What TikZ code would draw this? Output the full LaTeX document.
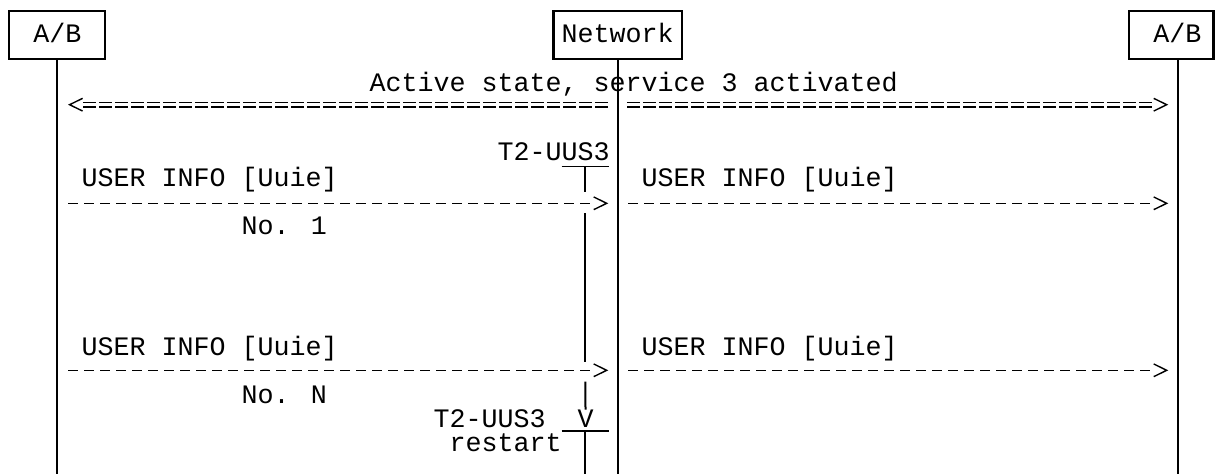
\documentclass[tikz,border=0pt]{standalone}
\usepackage{fontspec}
\newfontfamily\cour{Liberation Mono}
\usetikzlibrary{arrows.meta}
\begin{document}
\begin{tikzpicture}[x=1pt,y=-1pt,
  mono/.style={font=\cour\fontsize{26.67pt}{30pt}\selectfont},
  txt/.style={mono, inner sep=0pt, anchor=base west},
  actor/.style={mono, draw, line width=2.2pt, minimum width=96pt, minimum height=48.3pt,
    inner sep=0pt, text height=14.9pt, text depth=0pt},
  life/.style={line width=2.2pt},
  timer/.style={line width=2pt},
  uline/.style={line width=1.2pt},
  msg/.style={line width=1.5pt, dash pattern=on 10pt off 6pt},
  eqline/.style={double, double distance=2.8pt, line width=1.4pt, dash pattern=on 13pt off 3pt},
  tiponly/.style={line width=1.4pt, dash pattern=on 0pt off 1000pt, dash phase=1pt,
    -{Straight Barb[length=13pt,width=12.7pt,line width=1.4pt]}},
]
\fill[white] (0,0) rectangle (1215,474);
\useasboundingbox (0,0) rectangle (1215,474);

% actors
\node[actor] (A) at (57.3,34.85) {A/B};
\node[actor, minimum width=128.5pt] (N) at (617.7,34.85) {Network};
\node[actor, minimum width=84.2pt] (B) at (1171.4,34.85) {\hspace*{11.8pt}A/B};

% lifelines
\coordinate (Abot) at (57.3,474);
\coordinate (Nbot) at (617.7,474);
\coordinate (Bbot) at (1178,474);
\draw[life] (A.south) -- (Abot);
\draw[life] (N.south) -- (Nbot);
\draw[life] (B.south -| Bbot) -- (Bbot);

% state
\node[txt] (st) at (369.3,91) {Active state, service 3 activated};
\coordinate (sLa) at (607.8,104.7);
\coordinate (sLb) at (82.8,104.7);
\coordinate (sLt) at (68,104.7);
\coordinate (sRa) at (626.8,104.7);
\coordinate (sRb) at (1151.8,104.7);
\coordinate (sRt) at (1168.3,104.7);
\draw[eqline] (sLb) -- (sLa);
\draw[eqline] (sRa) -- (sRb);
\draw[tiponly] (sLb) -- (sLt);
\draw[tiponly] (sRb) -- (sRt);

% timer start
\node[txt] (t1) at (497.3,160.7) {T2-UUS3};
\coordinate (u1a) at (561.5,166.7);
\coordinate (u1b) at (608.5,166.7);
\draw[uline] (u1a) -- (u1b);

% message 1
\node[txt] (l1) at (81.3,186.7) {USER INFO [Uuie]};
\node[txt] (r1) at (641.3,186.7) {USER INFO [Uuie]};
\coordinate (m1s) at (68,203.3);
\coordinate (m1e) at (590.3,203.3);
\coordinate (m1t) at (608.3,203.3);
\coordinate (m2s) at (628,203.3);
\coordinate (m2e) at (1150.3,203.3);
\coordinate (m2t) at (1168.3,203.3);
\draw[msg] (m1s) -- (m1e);
\draw[tiponly] (m1e) -- (m1t);
\draw[msg] (m2s) -- (m2e);
\draw[tiponly] (m2e) -- (m2t);
\node[txt] (n1) at (241.3,234) {No. 1};

% message N
\node[txt] (l2) at (81.3,355) {USER INFO [Uuie]};
\node[txt] (r2) at (641.3,355) {USER INFO [Uuie]};
\coordinate (m3s) at (68,370.3);
\coordinate (m3e) at (590.3,370.3);
\coordinate (m3t) at (608.3,370.3);
\coordinate (m4s) at (628,370.3);
\coordinate (m4e) at (1150.3,370.3);
\coordinate (m4t) at (1168.3,370.3);
\draw[msg] (m3s) -- (m3e);
\draw[tiponly] (m3e) -- (m3t);
\draw[msg] (m4s) -- (m4e);
\draw[tiponly] (m4e) -- (m4t);
\node[txt] (n2) at (241.3,403.3) {No. N};

% timer expiry
\node[txt] (t2) at (433.3,427.3) {T2-UUS3};
\node[txt] (V) at (577.3,427.3) {V};
\node[txt] (rs) at (449.3,451) {restart};
\coordinate (u2a) at (561.5,431);
\coordinate (u2b) at (608.5,431);
\draw[uline] (u2a) -- (u2b);

% timer line
\coordinate (tA) at (585.4,166.7);
\coordinate (tB) at (585.4,191.7);
\coordinate (tC) at (585.4,213.3);
\coordinate (tD) at (585.4,361.7);
\coordinate (tE) at (585.4,381.7);
\coordinate (tF) at (585.4,431);
\coordinate (tG) at (585.4,474);
\draw[timer] (tA) -- (tB);
\draw[timer] (tC) -- (tD);
\draw[timer] (tE) -- (V.north);
\draw[timer] (tF) -- (tG);
\end{tikzpicture}
\end{document}
